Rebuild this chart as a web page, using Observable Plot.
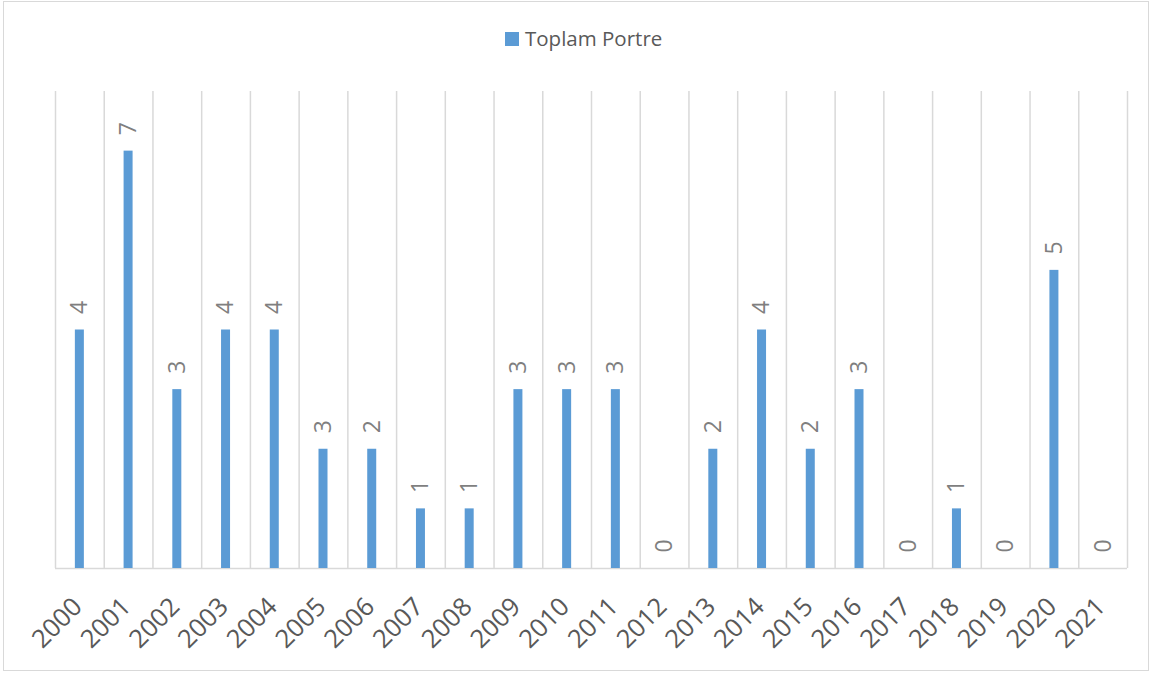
<!DOCTYPE html>
<html>
<head>
<meta charset="utf-8">
<script src="https://cdn.jsdelivr.net/npm/d3@7"></script>
<script src="https://cdn.jsdelivr.net/npm/@observablehq/plot@0.6"></script>
<style>
  html, body { margin: 0; padding: 0; background: #fff; }
  #wrap { position: relative; width: 1156px; height: 675px; font-family: "Open Sans", sans-serif; overflow: hidden; }
  #frame { position: absolute; left: 3px; top: 1px; width: 1146px; height: 670px; border: 1.5px solid #d9d9d9; box-sizing: border-box; pointer-events: none; }
  #legend { position: absolute; left: 505px; top: 28px; display: flex; align-items: center; font-size: 20.5px; line-height: 1; color: #595959; }
  #legend .sw { width: 14px; height: 14px; background: #5b9bd5; margin-right: 6px; margin-top: 2px; }
  #chart { position: absolute; left: 0; top: 0; }
</style>
</head>
<body>
<div id="wrap">
  <div id="frame"></div>
  <div id="legend"><span class="sw"></span><span id="legendText"></span></div>
  <div id="chart"></div>
</div>
<script>
const seriesName = "Toplam Portre";
const years = ["2000","2001","2002","2003","2004","2005","2006","2007","2008","2009","2010","2011","2012","2013","2014","2015","2016","2017","2018","2019","2020","2021"];
const values = [4, 7, 3, 4, 4, 2, 2, 1, 1, 3, 3, 3, 0, 2, 4, 2, 3, 0, 1, 0, 5, 0];
const labels = ["4","7","3","4","4","3","2","1","1","3","3","3","0","2","4","2","3","0","1","0","5","0"];

document.getElementById("legendText").textContent = seriesName;

const data = years.map((y, i) => ({year: y, value: values[i], label: labels[i]}));

const W = 1156, H = 675;
const mL = 55, mR = 29, mT = 91, mB = 107;
const bw = (W - mL - mR) / years.length;
const barW = 9;
const inset = (bw - barW) / 2;

const chart = Plot.plot({
  width: W,
  height: H,
  marginLeft: mL,
  marginRight: mR,
  marginTop: mT,
  marginBottom: mB,
  style: { fontFamily: "Open Sans, sans-serif", background: "transparent", overflow: "visible" },
  x: { type: "band", domain: years, padding: 0, round: false },
  y: { domain: [0, 8], axis: null },
  marks: [
    Plot.ruleX(years, { x: d => d, dx: -bw / 2, stroke: "#d9d9d9", strokeWidth: 1.5 }),
    Plot.ruleX([years[years.length - 1]], { x: d => d, dx: bw / 2, stroke: "#d9d9d9", strokeWidth: 1.5 }),
    Plot.ruleY([0], { stroke: "#d9d9d9", strokeWidth: 1.5 }),
    Plot.barY(data, { x: "year", y: "value", fill: "#5b9bd5", insetLeft: inset, insetRight: inset }),
    Plot.text(data, { x: "year", y: "value", text: "label", rotate: -90, textAnchor: "start", dy: -16, fill: "#7f7f7f", fontSize: 23 }),
    Plot.axisX({ tickSize: 0, tickRotate: -45, tickPadding: 34, dx: -2, fontSize: 25.5, fill: "#595959", label: null })
  ]
});
document.getElementById("chart").appendChild(chart);
</script>
</body>
</html>
